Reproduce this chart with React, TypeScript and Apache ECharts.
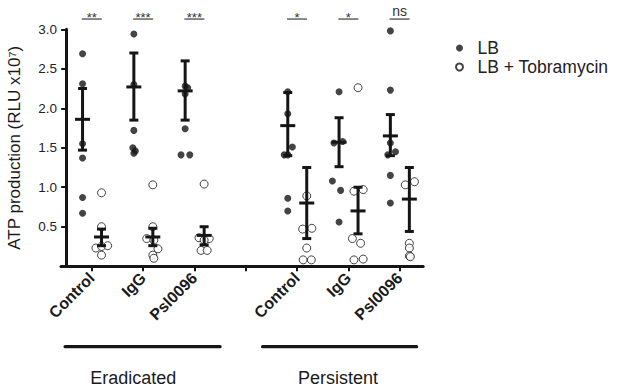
import React, { useEffect, useRef } from 'react';
import * as echarts from 'echarts';

// ---------- data ----------
const categories = ['Control', 'IgG', 'Psl0096', '', 'Control', 'IgG', 'Psl0096'];
const groupCategory = [0, 1, 2, 4, 5, 6];

const lbValues = [
  [2.69, 2.31, 1.55, 1.37, 0.87, 0.67],
  [2.94, 2.3, 1.72, 1.5, 1.46, 1.43],
  [2.28, 2.26, 2.18, 1.74, 1.41, 1.41],
  [2.21, 1.93, 1.51, 1.41, 1.41, 0.86, 0.7],
  [2.21, 1.56, 1.58, 1.08, 0.96, 0.56],
  [2.98, 2.23, 1.56, 1.41, 1.45, 1.15, 0.8],
];
const lbJitter = [
  [0, 0, 0, 0, 0, 0],
  [0, 0, 0, -0.02, 0.03, 0],
  [0, 0.05, 0, 0, -0.08, 0.09],
  [0, 0, 0.09, -0.07, 0, 0, 0],
  [0, -0.1, 0.07, -0.13, 0.03, 0],
  [0, 0, 0, -0.05, 0.1, 0, 0],
];
const tobValues = [
  [0.93, 0.5, 0.23, 0.25, 0.26, 0.14],
  [1.03, 0.5, 0.35, 0.33, 0.22, 0.14, 0.1],
  [1.04, 0.36, 0.35, 0.33, 0.2, 0.2],
  [0.89, 0.47, 0.48, 0.23, 0.08, 0.08],
  [2.26, 0.95, 0.97, 0.35, 0.29, 0.08, 0.09],
  [1.03, 1.07, 0.29, 0.23, 0.13, 0.12],
];
const tobJitter = [
  [0, 0, -0.11, 0, 0.12, 0],
  [0, 0, -0.12, 0.02, 0.1, 0, 0.02],
  [0, -0.1, 0.1, 0, -0.06, 0.06],
  [0, -0.08, 0.1, 0, -0.07, 0.09],
  [0, -0.08, 0.1, -0.11, 0.05, -0.08, 0.1],
  [-0.08, 0.1, 0, 0, 0, 0.02],
];
const lbMean = [1.86, 2.27, 2.22, 1.78, 1.57, 1.65];
const lbUpper = [2.25, 2.7, 2.6, 2.2, 1.88, 1.92];
const lbLower = [1.47, 1.85, 1.85, 1.4, 1.26, 1.4];
const tobMean = [0.37, 0.37, 0.39, 0.8, 0.7, 0.85];
const tobUpper = [0.47, 0.48, 0.5, 1.25, 1.0, 1.25];
const tobLower = [0.26, 0.26, 0.27, 0.35, 0.41, 0.44];
const significance = ['**', '***', '***', '*', '*', 'ns'];
const groupNames = ['Eradicated', 'Persistent'];
const yMax = 3.0;
const yStep = 0.5;

// ---------- layout ----------
const FONT = '"Liberation Sans", Arial, sans-serif';
const INK = '#151515';
const LB_SHIFT = -0.18;
const TOB_SHIFT = 0.19;
const SIG_LEVEL = 3.13;
const groupBarStart = [-0.02, 3.83];
const groupBarEnd = [3.0, 6.83];
const groupLabelX = [1.31, 5.3];
const catX = (i: number) => i + 0.5;
const tickValues = categories.map((_, i) => catX(i));

export default function App() {
  const ref = useRef<HTMLDivElement>(null);
  useEffect(() => {
    if (!ref.current) return;
    const chart = echarts.init(ref.current, null, { renderer: 'svg' });

    const lbPoints: number[][] = [];
    const tobPoints: number[][] = [];
    groupCategory.forEach((c, g) => {
      lbValues[g].forEach((v, j) => lbPoints.push([catX(c) + LB_SHIFT + lbJitter[g][j], v]));
      tobValues[g].forEach((v, j) => tobPoints.push([catX(c) + TOB_SHIFT + tobJitter[g][j], v]));
    });
    const errData: number[][] = [];
    groupCategory.forEach((c, g) => {
      errData.push([catX(c) + LB_SHIFT, lbMean[g], lbLower[g], lbUpper[g]]);
      errData.push([catX(c) + TOB_SHIFT, tobMean[g], tobLower[g], tobUpper[g]]);
    });
    const sigData = groupCategory.map((c, g) => [catX(c), SIG_LEVEL, g]);
    const groupData = groupNames.map((_, i) => [groupBarStart[i], groupBarEnd[i], groupLabelX[i], i]);

    const lineStyle = { stroke: INK, lineWidth: 3 };

    chart.setOption({
      animation: false,
      backgroundColor: '#fff',
      textStyle: { fontFamily: FONT },
      grid: { left: 61, top: 29.3, width: 362.2, height: 236.9, containLabel: false, outerBoundsMode: 'none' },
      legend: {
        data: ['LB', 'LB + Tobramycin'],
        orient: 'vertical',
        left: 450,
        top: 34,
        itemWidth: 26,
        itemHeight: 7,
        itemGap: 1,
        icon: 'circle',
        selectedMode: false,
        textStyle: { fontSize: 17.5, lineHeight: 18, color: '#222', fontFamily: FONT },
      },
      xAxis: {
        type: 'value',
        min: -0.1,
        max: 6.96,
        splitLine: { show: false },
        axisLine: { show: true, lineStyle: { color: INK, width: 3 } },
        axisTick: { show: true, customValues: tickValues, length: 5, lineStyle: { color: INK, width: 2 } },
        axisLabel: {
          show: true,
          customValues: tickValues,
          rotate: 45,
          margin: 9,
          fontSize: 16,
          fontWeight: 'bold',
          color: '#1a1a1a',
          fontFamily: FONT,
          formatter: (v: number) => categories[Math.round(v - 0.5)] ?? '',
        },
      },
      yAxis: {
        type: 'value',
        min: 0,
        max: yMax,
        interval: yStep,
        name: 'ATP production (RLU x10⁷)',
        nameLocation: 'middle',
        nameGap: 38,
        nameTextStyle: { fontSize: 17, color: '#1a1a1a', fontFamily: FONT },
        splitLine: { show: false },
        axisLine: { show: true, onZero: true, lineStyle: { color: INK, width: 3 } },
        axisTick: { show: true, length: 5, lineStyle: { color: INK, width: 2 } },
        axisLabel: {
          margin: 4,
          fontSize: 13.5,
          color: '#222',
          fontFamily: FONT,
          formatter: (v: number) => (v === 0 ? '' : v.toFixed(1)),
        },
      },
      series: [
        {
          type: 'scatter',
          name: 'LB',
          data: lbPoints,
          symbol: 'circle',
          symbolSize: 7,
          itemStyle: { color: INK },
          silent: true,
          z: 2,
        },
        {
          type: 'scatter',
          name: 'LB + Tobramycin',
          data: tobPoints,
          symbol: 'circle',
          symbolSize: 8,
          itemStyle: { color: '#fff', borderColor: INK, borderWidth: 1 },
          silent: true,
          z: 2,
        },
        {
          type: 'custom',
          name: 'err',
          data: errData,
          encode: { x: 0, y: [1, 2, 3] },
          silent: true,
          z: 3,
          renderItem: (_p: any, api: any) => {
            const x = api.value(0);
            const pm = api.coord([x, api.value(1)]);
            const plo = api.coord([x, api.value(2)]);
            const phi = api.coord([x, api.value(3)]);
            return {
              type: 'group',
              children: [
                { type: 'line', shape: { x1: pm[0], y1: phi[1], x2: pm[0], y2: plo[1] }, style: lineStyle },
                { type: 'line', shape: { x1: pm[0] - 4.5, y1: phi[1], x2: pm[0] + 4.5, y2: phi[1] }, style: lineStyle },
                { type: 'line', shape: { x1: pm[0] - 4.5, y1: plo[1], x2: pm[0] + 4.5, y2: plo[1] }, style: lineStyle },
                { type: 'line', shape: { x1: pm[0] - 7.5, y1: pm[1], x2: pm[0] + 7.5, y2: pm[1] }, style: lineStyle },
              ],
            };
          },
        },
        {
          type: 'custom',
          name: 'sig',
          data: sigData,
          encode: { x: 0, y: 1 },
          silent: true,
          z: 3,
          renderItem: (_p: any, api: any) => {
            const p = api.coord([api.value(0), api.value(1)]);
            const label = significance[api.value(2)];
            const isNs = label === 'ns';
            return {
              type: 'group',
              children: [
                { type: 'line', shape: { x1: p[0] - 10, y1: p[1], x2: p[0] + 10, y2: p[1] }, style: { stroke: INK, lineWidth: 1 } },
                {
                  type: 'text',
                  x: p[0],
                  y: isNs ? p[1] - 8.5 : p[1] - 1.5,
                  style: {
                    text: label,
                    fontSize: isNs ? 14 : 13,
                    fontFamily: FONT,
                    fill: '#333',
                    align: 'center',
                    verticalAlign: 'middle',
                  },
                },
              ],
            };
          },
        },
        {
          type: 'custom',
          name: 'groups',
          data: groupData,
          encode: { x: [0, 1, 2] },
          silent: true,
          z: 3,
          renderItem: (_p: any, api: any) => {
            const ps = api.coord([api.value(0), 0]);
            const pe = api.coord([api.value(1), 0]);
            const pl = api.coord([api.value(2), 0]);
            return {
              type: 'group',
              children: [
                {
                  type: 'line',
                  shape: { x1: ps[0], y1: ps[1] + 80.5, x2: pe[0], y2: ps[1] + 80.5 },
                  style: { stroke: INK, lineWidth: 3.3, lineCap: 'round' },
                },
                {
                  type: 'text',
                  x: pl[0],
                  y: ps[1] + 112,
                  style: {
                    text: groupNames[api.value(3)],
                    fontSize: 18,
                    fontFamily: FONT,
                    fill: '#1a1a1a',
                    align: 'center',
                    verticalAlign: 'middle',
                  },
                },
              ],
            };
          },
        },
      ],
    });
    return () => chart.dispose();
  }, []);
  return <div ref={ref} style={{ position: 'fixed', left: 0, top: 0, width: 621, height: 388 }} />;
}
